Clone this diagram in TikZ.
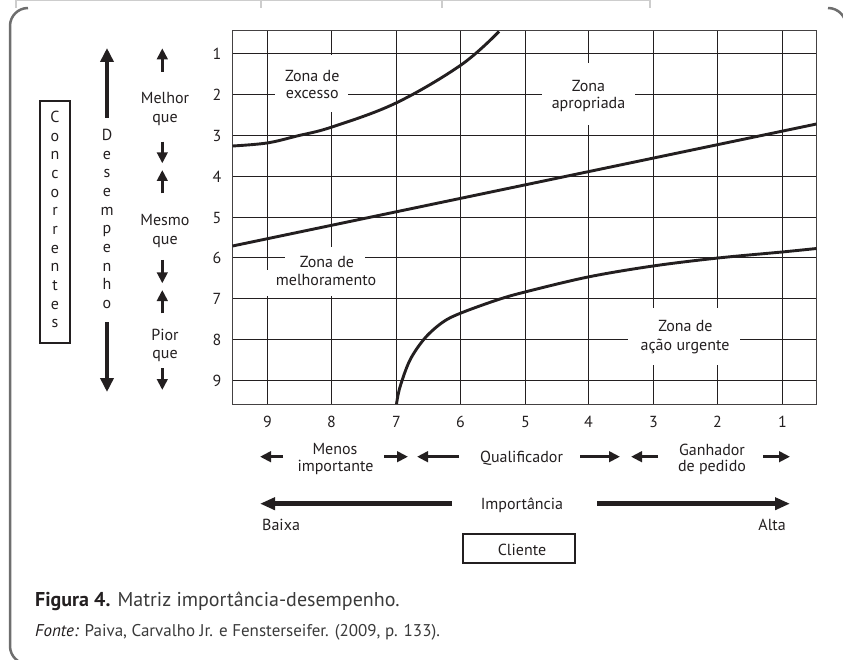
\documentclass[tikz,border=0pt]{standalone}
\usepackage{fontspec}
\setmainfont{PT Sans}
\usetikzlibrary{arrows.meta}
\definecolor{framegray}{HTML}{6E6E6E}
\definecolor{ghost}{HTML}{CDCDCD}
\definecolor{captext}{HTML}{3A3A3A}
\definecolor{ink}{HTML}{231F20}
\begin{document}
\begin{tikzpicture}[x=1pt,y=-1pt,
  txt/.style={font=\fontsize{16}{18}\selectfont, inner sep=0pt, anchor=base, text=ink},
  digit/.style={font=\fontsize{16}{18}\selectfont, inner sep=0pt, text=ink},
  stack/.style={font=\fontsize{16}{18.65}\selectfont, inner sep=0pt, align=center, text=ink},
  gridline/.style={line width=1.2pt, ink},
  curveline/.style={line width=2.9pt, ink},
  bigarrow/.style={line width=4pt, ink, -{Triangle[width=13pt,length=14pt]}},
  smallarrow/.style={line width=3pt, ink, -{Triangle[width=10.5pt,length=11pt]}},
  widearrow/.style={line width=4.5pt, ink, -{Triangle[width=12pt,length=15pt]}},
  framestyle/.style={line width=2.5pt, framegray, rounded corners=18pt},
  boxstyle/.style={draw=ink, line width=1.1pt, inner sep=0pt}
]
\useasboundingbox (0,0) rectangle (843,660);

% faint remains of the table above
\draw[ghost, line width=1.5pt] (16,0.75) -- (650,0.75);
\foreach \x in {16,261,442,650} \draw[ghost, line width=1.2pt] (\x,0) -- (\x,8);

% frame
\draw[framestyle] (28,8) -- (10,8) -- (10,664) -- (40,664);
\draw[framestyle] (828,8) -- (846,8) -- (846,40);

% grid (snapped to pixel centres)
\foreach \gx in {267.5,331.5,396.5,460.5,525.5,588.5,653.5,717.5,782.5}
  \draw[gridline] (\gx,30.5) -- (\gx,404.5);
\foreach \gy in {53.5,94.5,135.5,176.5,217.5,257.5,298.5,339.5,380.5}
  \draw[gridline] (232.5,\gy) -- (816.5,\gy);
\draw[line width=1.4pt, ink!85] (232.5,30.5) rectangle (816.5,404.5);

% white masks behind zone labels
\fill[white] (275,55) rectangle (348,112);
\fill[white] (542,63) rectangle (635,125);
\fill[white] (285,247) rectangle (365,272);
\fill[white] (265,270) rectangle (390,296);
\fill[white] (628,308) rectangle (740,365);

% curves
\draw[curveline] plot[smooth, tension=0.6] coordinates {(232.5,146) (267,143) (297,136) (332,127) (396,103) (461,65) (499,31.5)};
\draw[curveline] (232.5,246) -- (816.5,124);
\draw[curveline] plot[smooth, tension=0.55] coordinates {(396.5,404) (400,387) (410,360) (425,338) (443,322) (461,313) (497,300) (525,292) (588,277) (653,266) (718,258) (782,252) (816.5,248.5)};

% zone labels
\node[txt] (z1a) at (312.3,81.7) {Zona de};
\node[txt] (z1b) at (312.3,99) {excesso};
\node[txt] (z2a) at (588.5,91.7) {Zona};
\node[txt] (z2b) at (588.5,109) {apropriada};
\node[txt] (z3a) at (327,268) {Zona de};
\node[txt] (z3b) at (326,286) {melhoramento};
\node[txt] (z4a) at (685.5,331.7) {Zona de};
\node[txt] (z4b) at (685,350) {ação urgente};

% row and column numbers
\foreach \j/\gy in {1/53.5,2/94.5,3/135.5,4/176.5,5/217.5,6/257.5,7/298.5,8/339.5,9/380.5}
  \node[digit] (r\j) at (217,\gy) {\j};
\foreach \lab/\gx in {9/267.5,8/331.5,7/396.5,6/460.5,5/525.5,4/588.5,3/653.5,2/717.5,1/782.5}
  \node[digit] (c\lab) at (\gx,421.7) {\lab};

% left side
\node[boxstyle, minimum width=30pt, minimum height=242pt] (concbox) at (55,222) {};
\node[stack] (conc) at (55,219.5) {C\\o\\n\\c\\o\\r\\r\\e\\n\\t\\e\\s};
\node[stack] (desemp) at (107,219) {D\\e\\s\\e\\m\\p\\e\\n\\h\\o};
\draw[bigarrow] (107,118) -- (107,48);
\draw[bigarrow] (107,322) -- (107,392);

\draw[smallarrow] (162.3,71.7) -- (162.3,48.3);
\draw[smallarrow] (162.3,141.7) -- (162.3,163.3);
\draw[smallarrow] (162.3,193.3) -- (162.3,170);
\draw[smallarrow] (162.3,260) -- (162.3,283.3);
\draw[smallarrow] (162.3,313.3) -- (162.3,290);
\draw[smallarrow] (162.3,368.3) -- (162.3,390);
\node[txt] (melhor) at (165,104) {Melhor};
\node[txt] (que1) at (165,122.5) {que};
\node[txt] (mesmo) at (165,226) {Mesmo};
\node[txt] (que2) at (165,244.5) {que};
\node[txt] (pior) at (165,340) {Pior};
\node[txt] (que3) at (165,358.5) {que};

% bottom classification
\node[txt] (menos) at (335,454) {Menos};
\node[txt] (importante) at (335.5,471.7) {importante};
\node[txt] (qualif) at (521.5,462.3) {Qualificador};
\node[txt] (ganhador) at (712,455) {Ganhador};
\node[txt] (pedido) at (712,471.7) {de pedido};
\draw[smallarrow] (283,456.7) -- (260,456.7);
\draw[smallarrow] (384,456.7) -- (408,456.7);
\draw[smallarrow] (459,456.7) -- (417,456.7);
\draw[smallarrow] (580,456.7) -- (620,456.7);
\draw[smallarrow] (658,456.7) -- (631,456.7);
\draw[smallarrow] (763,456.7) -- (790,456.7);

% importance axis
\draw[widearrow] (452,503.7) -- (260,503.7);
\draw[widearrow] (597,503.7) -- (790,503.7);
\node[txt] (importancia) at (522,509) {Importância};
\node[txt, anchor=base west] (baixa) at (262,530) {Baixa};
\node[txt, anchor=base east] (alta) at (786,530) {Alta};
\node[boxstyle, minimum width=112pt, minimum height=29pt] (clientebox) at (519,548.5) {};
\node[txt] (cliente) at (522,555.5) {Cliente};

% caption
\node[anchor=base west, inner sep=0pt, font=\fontsize{20}{24}\selectfont, text=captext] (caption) at (35,606.7) {\textbf{\color{ink}Figura 4.} Matriz importância-desempenho.};
\node[anchor=base west, inner sep=0pt, font=\fontsize{17}{20}\selectfont, text=captext] (fonte) at (35,636.7) {\textit{\color{ink}Fonte:} Paiva, Carvalho Jr. e Fensterseifer. (2009, p. 133).};
\end{tikzpicture}
\end{document}
